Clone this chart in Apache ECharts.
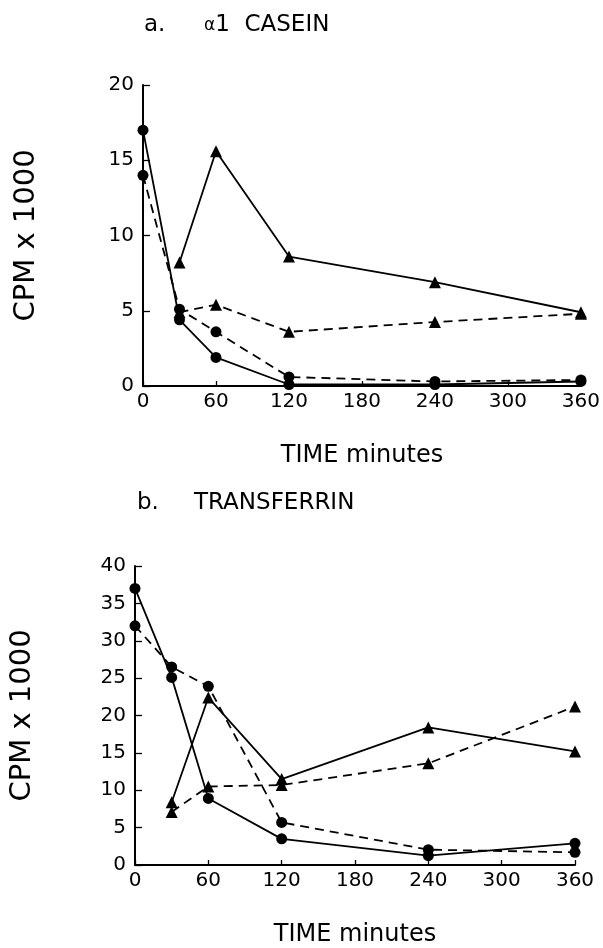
<!DOCTYPE html>
<html>
<head>
<meta charset="utf-8">
<title>CPM x 1000 vs TIME</title>
<script src="https://cdn.jsdelivr.net/npm/echarts@6/dist/echarts.min.js"></script>
<style>
html,body{margin:0;padding:0;background:#fff;}
#chart{width:603px;height:948px;}
</style>
</head>
<body>
<div id="chart"></div>
<script>
'use strict';

// sampling times (minutes)
var TIMES=[0,30,60,120,240,360];

// a. alpha1 casein, CPM x 1000
var caseinCircleSolid=[17,4.4,1.9,0.1,0.1,0.3];
var caseinCircleDash=[14,5.1,3.6,0.6,0.3,0.4];
var caseinTriSolid=[null,8.2,15.6,8.6,6.9,4.9];
var caseinTriDash=[null,4.9,5.4,3.6,4.25,4.8];

// b. transferrin, CPM x 1000
var tfCircleSolid=[37,25.1,8.9,3.5,1.25,2.9];
var tfCircleDash=[32,26.5,23.9,5.7,2.05,1.7];
var tfTriSolid=[null,8.4,22.4,11.5,18.4,15.2];
var tfTriDash=[null,7.1,10.5,10.7,13.6,21.2];

var FONT='DejaVu Sans';

/**
 * pair times with values, skip missing points
 */
function pairs(vals){
    var out=[];
    for(var i=0;i<TIMES.length;i++){
        if(vals[i]!=null) out.push([TIMES[i],vals[i]]);
    }
    return out;
}

function line(idx,vals,symbol,dashed){
    return {
        type:'line',xAxisIndex:idx,yAxisIndex:idx,
        data:pairs(vals),
        symbol:symbol,symbolSize:symbol==='circle'?11:12,
        itemStyle:{color:'#000'},
        lineStyle:{color:'#000',width:1.8,type:dashed?[9,6]:'solid'},
        z:3
    };
}

function xAxis(idx){
    return {
        type:'value',gridIndex:idx,min:0,max:360,interval:60,
        name:'TIME minutes',nameLocation:'middle',nameGap:58,
        nameTextStyle:{fontFamily:FONT,fontSize:24,color:'#000'},
        axisLine:{lineStyle:{color:'#000',width:2}},
        axisTick:{inside:true,length:5,lineStyle:{color:'#000',width:1.3}},
        axisLabel:{fontFamily:FONT,fontSize:20,color:'#000',margin:6},
        splitLine:{show:false}
    };
}

function yAxis(idx,max,gap){
    return {
        type:'value',gridIndex:idx,min:0,max:max,interval:5,
        name:'CPM x 1000',nameLocation:'middle',nameGap:gap,nameRotate:90,
        nameTextStyle:{fontFamily:FONT,fontSize:29,color:'#000'},
        axisLine:{show:true,lineStyle:{color:'#000',width:2}},
        axisTick:{show:true,inside:true,length:7,lineStyle:{color:'#000',width:1.3}},
        axisLabel:{fontFamily:FONT,fontSize:20,color:'#000',margin:9},
        splitLine:{show:false}
    };
}

var chart=echarts.init(document.getElementById('chart'));
chart.setOption({
    animation:false,
    backgroundColor:'#fff',
    title:[
        {text:'a.',left:139,top:9,textStyle:{fontFamily:FONT,fontSize:23,fontWeight:'normal',color:'#000'}},
        {text:'{al|α}1  CASEIN',left:199,top:9,textStyle:{fontFamily:FONT,fontSize:23,fontWeight:'normal',color:'#000',
            rich:{al:{fontFamily:FONT,fontSize:17,color:'#000'}}}},
        {text:'b.',left:132,top:487,textStyle:{fontFamily:FONT,fontSize:23,fontWeight:'normal',color:'#000'}},
        {text:'TRANSFERRIN',left:189,top:487,textStyle:{fontFamily:FONT,fontSize:23,fontWeight:'normal',color:'#000'}}
    ],
    grid:[
        {left:143,top:85,width:439,height:301},
        {left:135,top:566,width:440,height:299}
    ],
    xAxis:[xAxis(0),xAxis(1)],
    yAxis:[yAxis(0,20,102),yAxis(1,40,98)],
    series:[
        line(0,caseinCircleSolid,'circle',false),
        line(0,caseinCircleDash,'circle',true),
        line(0,caseinTriSolid,'triangle',false),
        line(0,caseinTriDash,'triangle',true),
        line(1,tfCircleSolid,'circle',false),
        line(1,tfCircleDash,'circle',true),
        line(1,tfTriSolid,'triangle',false),
        line(1,tfTriDash,'triangle',true)
    ]
});
</script>
</body>
</html>
